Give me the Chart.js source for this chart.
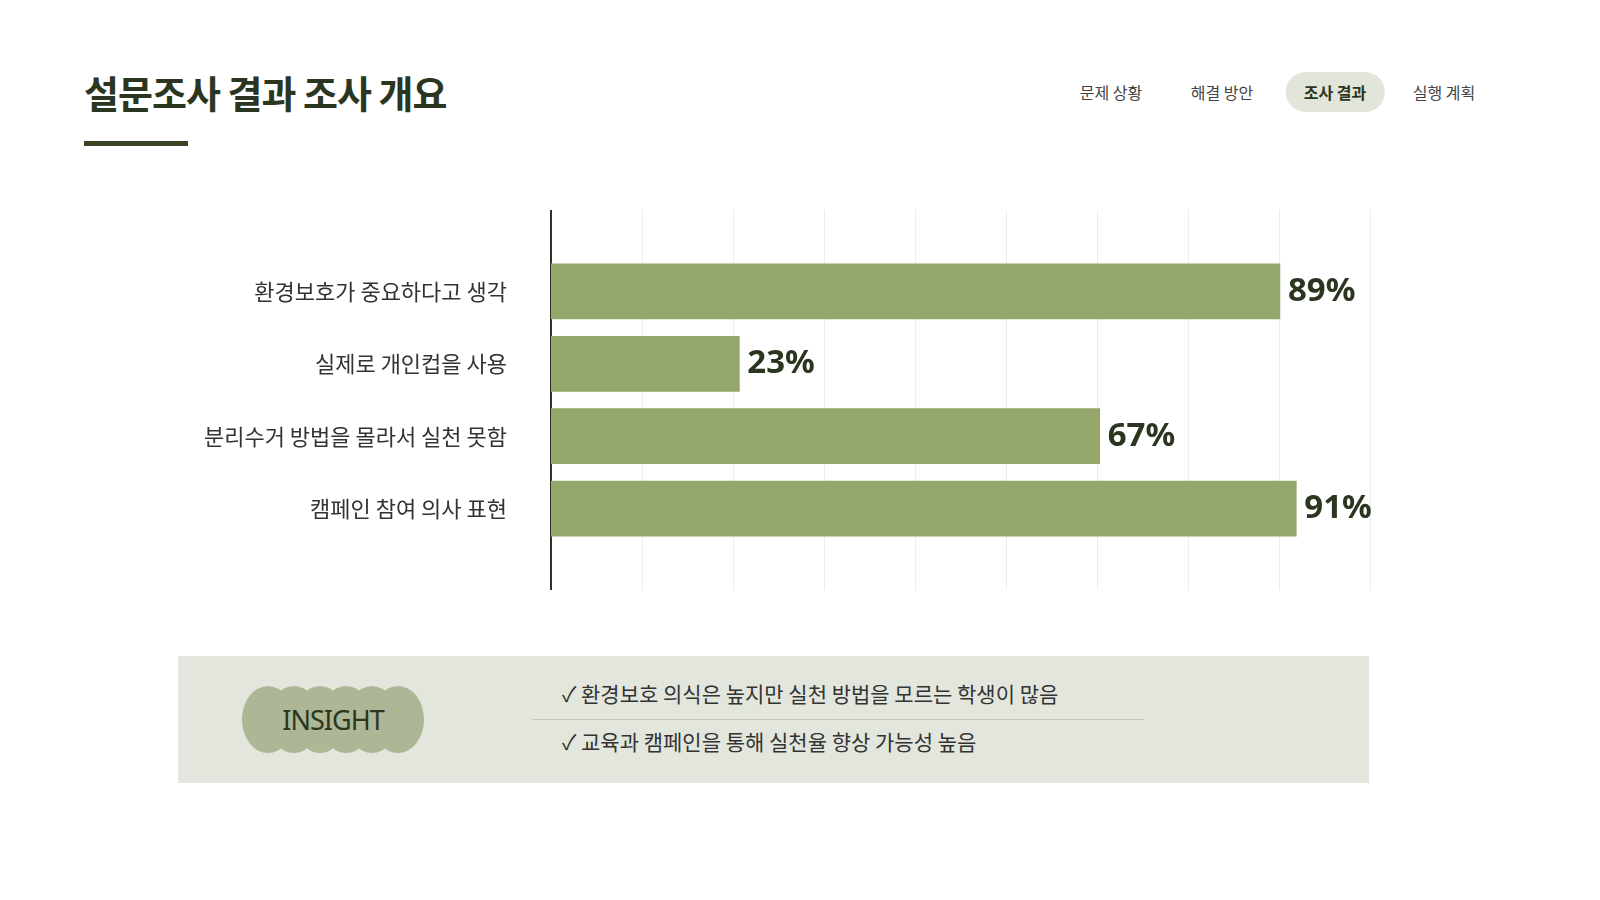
<!DOCTYPE html>
<html><head><meta charset="utf-8">
<script src="https://cdn.jsdelivr.net/npm/chart.js@4"></script>
<style>
body{margin:0;width:1600px;height:900px;background:#fff;font-family:"Noto Sans CJK KR","Noto Sans",sans-serif;position:relative;overflow:hidden}
.title{position:absolute;left:84px;top:64px;font-size:38px;font-weight:700;color:#2b3620;letter-spacing:-1px}
.ul{position:absolute;left:84px;top:141px;width:104px;height:5px;background:#3a4526}
.nav{position:absolute;top:72px;height:40px;line-height:40px;font-size:16px;color:#444}
.nav span{position:absolute;white-space:nowrap;transform:translateX(-50%)}
.act{background:#e1e5da;border-radius:20px;padding:0 18px;font-weight:700;color:#2b3620}
#wrap{position:absolute;left:160px;top:206px;width:1240px;height:388px}
.box{position:absolute;left:178px;top:656px;width:1191px;height:127px;background:#e3e6dd}
.badge{position:absolute;left:64px;top:30px;width:182px;height:67px}
.badge i{position:absolute;top:0;width:52px;height:67px;border-radius:50%;background:#adb695}
.badge b{position:absolute;left:0;top:0;width:182px;line-height:67px;text-align:center;font-weight:400;font-size:27px;color:#2b3620;letter-spacing:-1px;font-family:"Noto Sans",sans-serif}
.it{position:absolute;left:384px;font-size:21px;color:#333}
.sep{position:absolute;left:354px;top:63px;width:612px;height:1px;background:#c2c8b6}
</style></head><body>
<div class="title">설문조사 결과 조사 개요</div><div class="ul"></div>
<div class="nav" style="left:0;width:1600px">
<span style="left:1111px">문제 상황</span>
<span style="left:1222px">해결 방안</span>
<span class="act" style="left:1335px">조사 결과</span>
<span style="left:1444px">실행 계획</span>
</div>
<div id="wrap"><canvas id="c"></canvas></div>
<div class="box">
<div class="badge"><i style="left:0"></i><i style="left:26px"></i><i style="left:52px"></i><i style="left:78px"></i><i style="left:104px"></i><i style="left:130px"></i><b>INSIGHT</b></div>
<div class="it" style="top:22px">✓ 환경보호 의식은 높지만 실천 방법을 모르는 학생이 많음</div>
<div class="sep"></div>
<div class="it" style="top:70px">✓ 교육과 캠페인을 통해 실천율 향상 가능성 높음</div>
</div>
<script>
const categories=["환경보호가 중요하다고 생각","실제로 개인컵을 사용","분리수거 방법을 몰라서 실천 못함","캠페인 참여 의사 표현"];
const values=[89,23,67,91];
const valueLabels=["89%","23%","67%","91%"];
const deco={id:'deco',
 beforeDatasetsDraw(ch){const c=ch.ctx,x=ch.scales.x;c.save();c.strokeStyle='#ececec';c.lineWidth=1;
  for(let i=1;i<=9;i++){const px=Math.round(x.getPixelForValue(i*100/9))+0.5;c.beginPath();c.moveTo(px,4);c.lineTo(px,384);c.stroke();}
  c.strokeStyle='#2b3620';c.lineWidth=2;const l=x.getPixelForValue(0);c.beginPath();c.moveTo(l,4);c.lineTo(l,384);c.stroke();c.restore();},
 afterDatasetsDraw(ch){const c=ch.ctx;c.save();c.font='bold 33px "Noto Sans","Noto Sans CJK KR",sans-serif';c.fillStyle='#2b3620';c.textBaseline='middle';
  ch.getDatasetMeta(0).data.forEach((b,i)=>{c.fillText(valueLabels[i],b.x+8,b.y);});c.restore();}};
new Chart(document.getElementById('c'),{type:'bar',
 data:{labels:categories,datasets:[{data:values,backgroundColor:'#94a66a',barThickness:55}]},
 options:{indexAxis:'y',responsive:true,maintainAspectRatio:false,animation:false,
  layout:{padding:{top:38,bottom:38,right:30}},
  plugins:{legend:{display:false},tooltip:{enabled:false}},
  scales:{x:{min:0,max:100,display:false},
   y:{grid:{display:false},border:{display:false},afterFit(s){s.width=391;},
    ticks:{color:'#333',padding:36,font:{size:22,family:'"Noto Sans CJK KR"'}}}}},
 plugins:[deco]});
</script></body></html>
